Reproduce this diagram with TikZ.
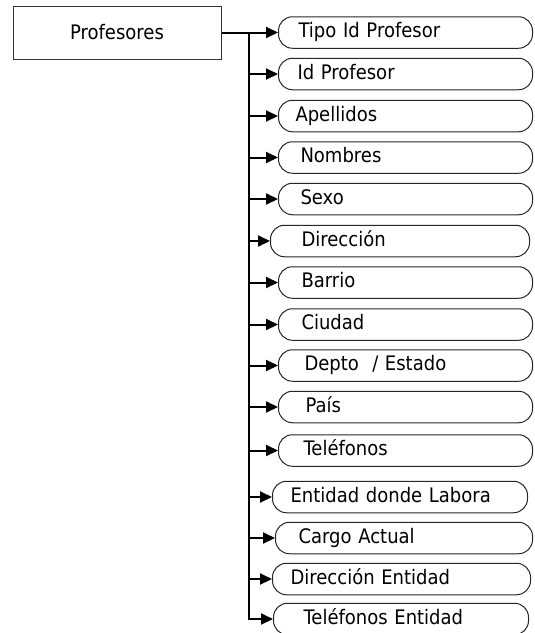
\documentclass[tikz,border=0pt]{standalone}
\usepackage{fontspec}
\setmainfont{DejaVu Sans}[FakeStretch=0.9]
\usetikzlibrary{arrows.meta}
\tikzset{
  attr/.style={draw=black!85, line width=1pt, rounded corners=14pt,
    minimum height=31.5pt, inner sep=0pt, text height=14pt, text depth=4pt,
    align=left, font=\fontsize{20}{23}\selectfont},
  entity/.style={draw=black!80, line width=1pt, minimum width=208pt,
    minimum height=53pt, inner sep=0pt, font=\fontsize{20}{23}\selectfont},
  conn/.style={line width=2pt, -{Triangle[length=12pt,width=11pt]}},
  trunk/.style={line width=2pt}
}
\newcommand{\attrbox}[6]{%
  \node[attr, text width=#3pt, anchor=west] (#1) at (#2,#4) {\hspace*{#5pt}#6};}
\begin{document}
\begin{tikzpicture}[x=1pt,y=-1pt]
\useasboundingbox (0,0) rectangle (535,633);
\node[entity] (prof) at (117,32.5) {Profesores};
\attrbox{b1}{278}{254}{32.5}{20}{Tipo Id Profesor}
\attrbox{b2}{278}{254}{74}{19}{Id Profesor}
\attrbox{b3}{278}{254}{116}{17}{Apellidos}
\attrbox{b4}{278}{254}{157.5}{22}{Nombres}
\attrbox{b5}{278}{254}{199}{22}{Sexo}
\attrbox{b6}{270}{259}{241}{31}{Dirección}
\attrbox{b7}{278}{254}{282.5}{23}{Barrio}
\attrbox{b8}{278}{254}{324.5}{23}{Ciudad}
\attrbox{b9}{278}{254}{365.5}{26}{Depto\ \ / Estado}
\attrbox{b10}{278}{254}{407}{27}{País}
\attrbox{b11}{278}{254}{450.5}{25}{Teléfonos}
\attrbox{b12}{272}{255}{497}{18}{Entidad donde Labora}
\attrbox{b13}{275}{257}{538}{23}{Cargo Actual}
\attrbox{b14}{272}{258}{579}{18}{Dirección Entidad}
\attrbox{b15}{273}{255}{619}{30}{Teléfonos Entidad}
\coordinate (tk) at (249,32.5);
\draw[conn] (prof.east) -- (b1.west);
\draw[conn] (tk) |- (b15.west);
\foreach \b in {b2,b3,b4,b5,b6,b7,b8,b9,b10,b11,b12,b13,b14}{
  \draw[conn] (tk |- \b.west) -- (\b.west);
}
\end{tikzpicture}
\end{document}
